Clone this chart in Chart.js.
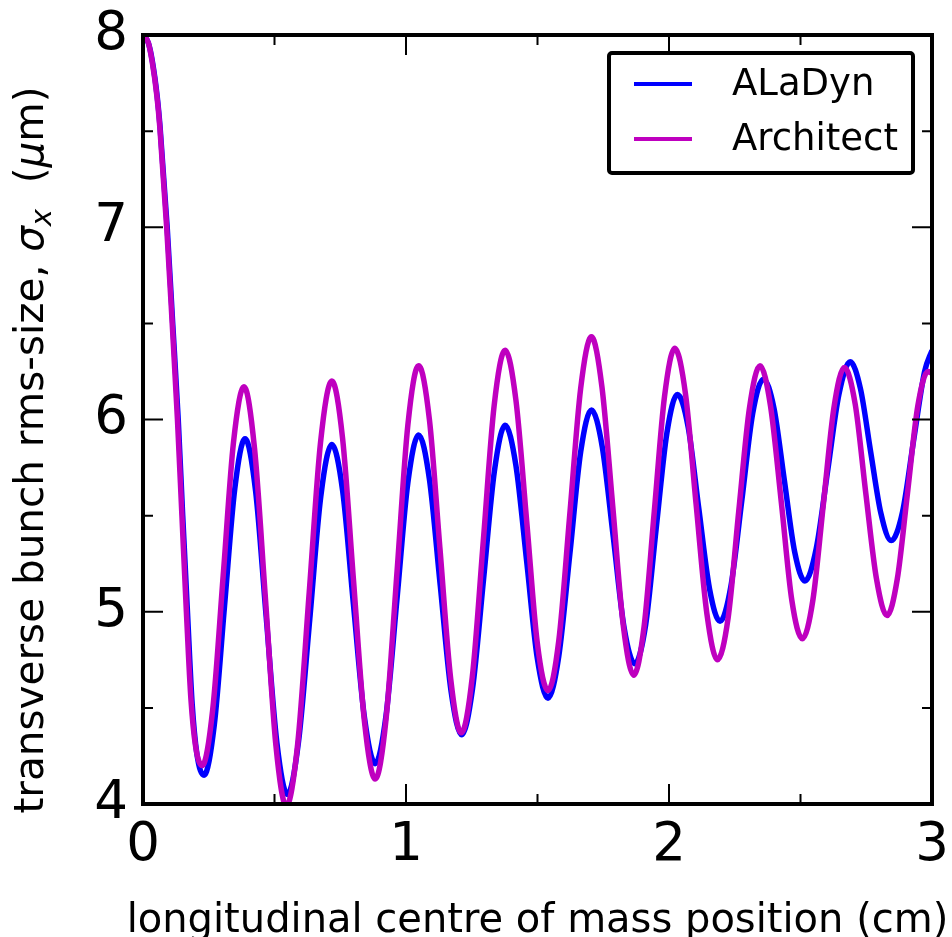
<!DOCTYPE html>
<html>
<head>
<meta charset="utf-8">
<title>Transverse bunch rms-size</title>
<script src="https://cdn.jsdelivr.net/npm/chart.js@4.4.1/dist/chart.umd.min.js"></script>
<style>
  html, body { margin: 0; padding: 0; background: #fff; }
  canvas { display: block; }
</style>
</head>
<body>
<canvas id="chart" width="952" height="937"></canvas>
<script>
// values: longitudinal position (cm) vs sigma_x (um)
const aladynX = [0, 0.02, 0.036, 0.054, 0.065, 0.092, 0.113, 0.134, 0.151, 0.169, 0.187, 0.205, 0.232,
  0.271, 0.310, 0.349, 0.388,
  0.428, 0.468, 0.509, 0.549,
  0.591, 0.634, 0.676, 0.718,
  0.759, 0.800, 0.842, 0.883,
  0.924, 0.966, 1.007, 1.048,
  1.089, 1.130, 1.171, 1.212,
  1.253, 1.295, 1.336, 1.377,
  1.418, 1.459, 1.499, 1.540,
  1.581, 1.623, 1.664, 1.705,
  1.746, 1.788, 1.829, 1.870,
  1.911, 1.951, 1.992, 2.032,
  2.073, 2.113, 2.154, 2.194,
  2.235, 2.277, 2.318, 2.359,
  2.399, 2.438, 2.478, 2.517,
  2.560, 2.603, 2.646, 2.689,
  2.728, 2.767, 2.806, 2.845,
  2.888, 2.930, 2.972, 3.0];
const aladynY = [8.0, 7.96, 7.86, 7.68, 7.52, 7.0, 6.5, 6.0, 5.5, 5.0, 4.52, 4.26, 4.15,
  4.41, 5.03, 5.64, 5.90,
  5.63, 4.98, 4.32, 4.05,
  4.32, 4.96, 5.60, 5.87,
  5.63, 5.04, 4.45, 4.21,
  4.46, 5.07, 5.67, 5.92,
  5.69, 5.14, 4.59, 4.36,
  4.60, 5.17, 5.73, 5.97,
  5.76, 5.26, 4.76, 4.55,
  4.77, 5.30, 5.83, 6.05,
  5.86, 5.39, 4.92, 4.73,
  4.93, 5.43, 5.93, 6.13,
  5.96, 5.54, 5.12, 4.95,
  5.13, 5.58, 6.03, 6.21,
  6.06, 5.69, 5.31, 5.16,
  5.33, 5.73, 6.13, 6.30,
  6.16, 5.83, 5.51, 5.37,
  5.52, 5.89, 6.25, 6.36];

const architectX = [0, 0.02, 0.035, 0.053, 0.064, 0.090, 0.111, 0.131, 0.148, 0.165, 0.182, 0.200, 0.225,
  0.265, 0.305, 0.344, 0.384,
  0.424, 0.465, 0.505, 0.545,
  0.588, 0.632, 0.675, 0.718,
  0.759, 0.800, 0.842, 0.883,
  0.924, 0.966, 1.007, 1.048,
  1.089, 1.129, 1.170, 1.210,
  1.252, 1.294, 1.335, 1.377,
  1.418, 1.459, 1.499, 1.540,
  1.581, 1.623, 1.664, 1.705,
  1.745, 1.786, 1.826, 1.866,
  1.905, 1.944, 1.983, 2.022,
  2.063, 2.103, 2.144, 2.184,
  2.225, 2.265, 2.306, 2.346,
  2.386, 2.427, 2.467, 2.507,
  2.547, 2.587, 2.627, 2.667,
  2.708, 2.748, 2.789, 2.829,
  2.868, 2.907, 2.946, 2.985, 3.0];
const architectY = [8.0, 7.96, 7.86, 7.68, 7.52, 7.0, 6.5, 6.0, 5.5, 5.0, 4.55, 4.30, 4.20,
  4.49, 5.19, 5.88, 6.17,
  5.85, 5.08, 4.31, 3.99,
  4.31, 5.10, 5.88, 6.20,
  5.90, 5.17, 4.43, 4.13,
  4.44, 5.21, 5.97, 6.28,
  6.00, 5.33, 4.65, 4.37,
  4.66, 5.37, 6.07, 6.36,
  6.10, 5.47, 4.84, 4.59,
  4.85, 5.51, 6.16, 6.43,
  6.17, 5.55, 4.93, 4.67,
  4.92, 5.52, 6.12, 6.37,
  6.13, 5.56, 4.99, 4.75,
  4.97, 5.52, 6.06, 6.28,
  6.07, 5.57, 5.06, 4.86,
  5.06, 5.56, 6.06, 6.27,
  6.08, 5.62, 5.17, 4.98,
  5.17, 5.62, 6.07, 6.25, 6.24];

const xMajor = [0, 1, 2, 3];
const xMinor = [0.5, 1.5, 2.5];
const yMajor = [4, 5, 6, 7, 8];
const yMinor = [4.5, 5.5, 6.5, 7.5];

const seriesLabels = ['ALaDyn', 'Architect'];
const seriesColors = ['#0000ff', '#bf00bf'];
const xTitleText = 'longitudinal centre of mass position (cm)';

Chart.defaults.font.family = "'DejaVu Sans', sans-serif";
Chart.defaults.color = '#000';

function toPoints(xs, ys) {
    return xs.map((v, i) => ({ x: v, y: ys[i] }));
}

// keep the plot box where it is in the figure, labels may overhang
function noScalePadding(s) {
    s.paddingTop = 0;
    s.paddingBottom = 0;
    s.paddingLeft = 0;
    s.paddingRight = 0;
}

// frame + inward ticks on all four sides, like the matplotlib axes
const frameTicks = {
    id: 'frameTicks',
    afterDatasetsDraw(chart) {
        const { ctx, chartArea: a, scales: { x, y } } = chart;
        ctx.save();
        ctx.strokeStyle = '#000';
        ctx.lineWidth = 2;
        ctx.beginPath();
        const xt = (vals, len) => vals.forEach(v => {
            const px = x.getPixelForValue(v);
            ctx.moveTo(px, a.bottom); ctx.lineTo(px, a.bottom - len);
            ctx.moveTo(px, a.top); ctx.lineTo(px, a.top + len);
        });
        const yt = (vals, len) => vals.forEach(v => {
            const py = y.getPixelForValue(v);
            ctx.moveTo(a.left, py); ctx.lineTo(a.left + len, py);
            ctx.moveTo(a.right, py); ctx.lineTo(a.right - len, py);
        });
        xt(xMajor, 20); xt(xMinor, 10);
        yt(yMajor, 20); yt(yMinor, 10);
        ctx.stroke();
        ctx.lineWidth = 4;
        ctx.strokeRect(a.left, a.top, a.right - a.left, a.bottom - a.top);
        ctx.restore();
    }
};

// boxed legend in the upper right corner
const boxLegend = {
    id: 'boxLegend',
    afterDraw(chart) {
        const ctx = chart.ctx;
        const left = 609, top = 53, w = 304, h = 120;
        ctx.save();
        ctx.fillStyle = '#fff';
        ctx.strokeStyle = '#000';
        ctx.lineWidth = 4;
        ctx.beginPath();
        ctx.roundRect(left, top, w, h, 3);
        ctx.fill();
        ctx.stroke();
        ctx.font = "37px 'DejaVu Sans'";
        ctx.textBaseline = 'middle';
        chart.data.datasets.forEach((ds, i) => {
            const yy = 84 + i * 55;
            ctx.strokeStyle = ds.borderColor;
            ctx.lineWidth = 4;
            ctx.beginPath();
            ctx.moveTo(634, yy);
            ctx.lineTo(692, yy);
            ctx.stroke();
            ctx.fillStyle = '#000';
            ctx.fillText(ds.label, 732, yy + 1);
        });
        ctx.restore();
    }
};

// axis titles: x title may run past the plot box, y title has italic sigma_x and mu
const axisTitles = {
    id: 'axisTitles',
    afterDraw(chart) {
        const { ctx, chartArea: a } = chart;
        ctx.save();
        ctx.fillStyle = '#000';
        ctx.textBaseline = 'alphabetic';
        ctx.textAlign = 'center';
        ctx.font = "40px 'DejaVu Sans'";
        ctx.fillText(xTitleText, (a.left + a.right) / 2, 932);

        const parts = [
            { t: 'transverse bunch rms-size, ', f: "40.5px 'DejaVu Sans'", dy: 0 },
            { t: '\u03c3', f: "italic 40.5px 'DejaVu Sans'", dy: 0 },
            { t: 'x', f: "italic 29px 'DejaVu Sans'", dy: 8 },
            { t: '  (', f: "40.5px 'DejaVu Sans'", dy: 0 },
            { t: '\u03bc', f: "italic 40.5px 'DejaVu Sans'", dy: 0 },
            { t: 'm)', f: "40.5px 'DejaVu Sans'", dy: 0 }
        ];
        ctx.textAlign = 'left';
        let total = 0;
        parts.forEach(p => { ctx.font = p.f; p.w = ctx.measureText(p.t).width; total += p.w; });
        ctx.translate(43, 450);
        ctx.rotate(-Math.PI / 2);
        let cx = -total / 2;
        parts.forEach(p => {
            ctx.font = p.f;
            ctx.fillText(p.t, cx, p.dy);
            cx += p.w;
        });
        ctx.restore();
    }
};

new Chart(document.getElementById('chart'), {
    type: 'line',
    data: {
        datasets: [{
            label: seriesLabels[0],
            data: toPoints(aladynX, aladynY),
            borderColor: seriesColors[0],
            borderWidth: 5.5,
            pointRadius: 0,
            fill: false,
            cubicInterpolationMode: 'monotone',
            order: 2
        }, {
            label: seriesLabels[1],
            data: toPoints(architectX, architectY),
            borderColor: seriesColors[1],
            borderWidth: 5.5,
            pointRadius: 0,
            fill: false,
            cubicInterpolationMode: 'monotone',
            order: 1
        }]
    },
    options: {
        responsive: false,
        animation: false,
        devicePixelRatio: 1,
        layout: { padding: { left: 0, right: 20, top: 35, bottom: 0 } },
        plugins: {
            legend: { display: false },
            tooltip: { enabled: false }
        },
        scales: {
            x: {
                type: 'linear',
                min: 0,
                max: 3,
                afterBuildTicks: s => { s.ticks = xMajor.map(v => ({ value: v })); },
                afterFit: s => { s.height = 133; noScalePadding(s); },
                grid: { display: false, drawTicks: false },
                border: { display: false },
                ticks: { font: { size: 53 }, color: '#000', padding: 10, maxRotation: 0, autoSkip: false }
            },
            y: {
                type: 'linear',
                min: 4,
                max: 8,
                afterBuildTicks: s => { s.ticks = yMajor.map(v => ({ value: v })); },
                afterFit: s => { s.width = 143; noScalePadding(s); },
                grid: { display: false, drawTicks: false },
                border: { display: false },
                ticks: { font: { size: 53 }, color: '#000', padding: 15, autoSkip: false }
            }
        }
    },
    plugins: [frameTicks, boxLegend, axisTitles]
});
</script>
</body>
</html>
